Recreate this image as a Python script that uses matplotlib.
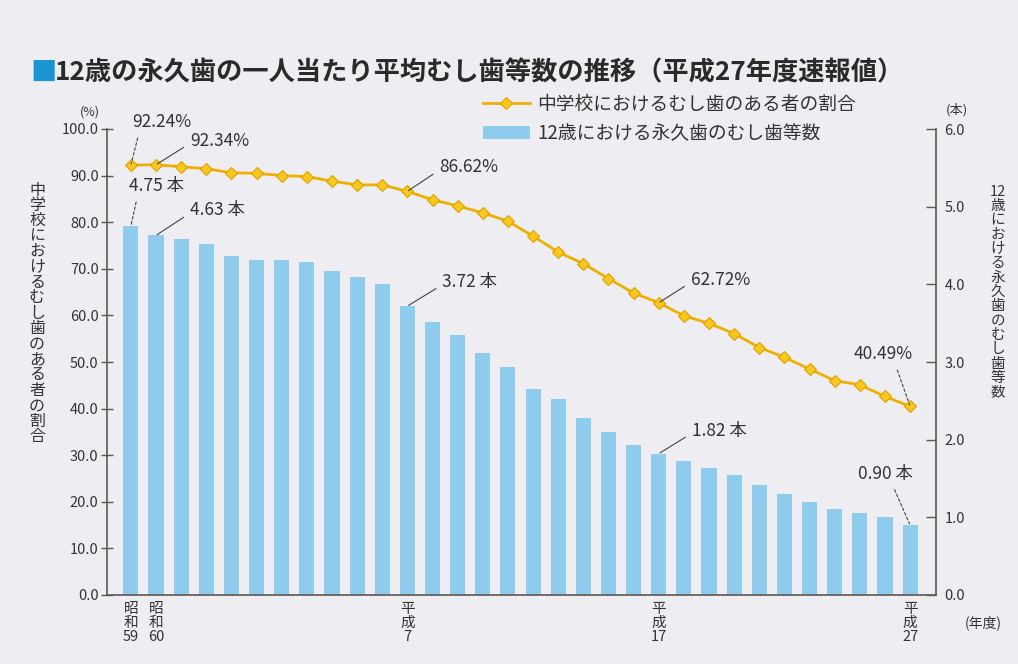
import numpy as np
import matplotlib
matplotlib.use("Agg")
import matplotlib.pyplot as plt
from matplotlib.ticker import FormatStrFormatter

plt.rcParams['font.family'] = ['Noto Sans CJK JP', 'DejaVu Sans']

# data: 昭和59 (1984) .. 平成27 (2015)
years = list(range(1984, 2016))
caries_rate = [92.24, 92.34, 91.9, 91.5, 90.6, 90.5, 90.0, 89.8, 88.8, 88.0, 88.0, 86.62,
               84.8, 83.5, 82.0, 80.2, 77.0, 73.6, 71.1, 67.9, 64.8, 62.72,
               59.9, 58.3, 56.1, 53.1, 51.0, 48.5, 46.0, 45.1, 42.6, 40.49]
dmft = [4.75, 4.63, 4.59, 4.52, 4.36, 4.31, 4.31, 4.29, 4.17, 4.09, 4.01, 3.72,
        3.52, 3.35, 3.11, 2.93, 2.65, 2.52, 2.28, 2.10, 1.93, 1.82,
        1.72, 1.63, 1.55, 1.41, 1.30, 1.20, 1.11, 1.05, 1.00, 0.90]
tick_idx = [0, 1, 11, 21, 31]
tick_labels = ["昭\n和\n59", "昭\n和\n60", "平\n成\n7", "平\n成\n17", "平\n成\n27"]
rate_notes = [0, 1, 11, 21, 31]
dmft_notes = [0, 1, 11, 21, 31]

title = "12歳の永久歯の一人当たり平均むし歯等数の推移（平成27年度速報値）"
line_name = "中学校におけるむし歯のある者の割合"
bar_name = "12歳における永久歯のむし歯等数"

W, H = 1018, 664
BG = "#eeedf2"
TXT = "#333333"
SPINE = "#5f5752"

fig = plt.figure(figsize=(W / 100, H / 100), dpi=100, facecolor=BG)
ax = fig.add_axes([107 / W, 1 - 595 / H, 829 / W, 466 / H])
ax.set_facecolor("none")
x = np.arange(len(years))

bars = ax.bar(x, dmft, width=0.6, color="#8fcbec", zorder=2)
ax.set_ylim(0, 6)
ax.set_xlim(-0.95, 32.03)

ax2 = ax.twinx()
line, = ax2.plot(x, caries_rate, color="#eeb000", lw=2, marker="D", ms=6,
                 mfc="#f8c81e", mec="#e0a000", mew=0.8, zorder=3)
ax2.set_ylim(0, 100)

# bars use the right scale, the line uses the left one
ax.yaxis.tick_right()
ax2.yaxis.tick_left()
ax.set_yticks(np.arange(0, 6.1, 1))
ax2.set_yticks(np.arange(0, 100.1, 10))
ax.yaxis.set_major_formatter(FormatStrFormatter("%.1f"))
ax2.yaxis.set_major_formatter(FormatStrFormatter("%.1f"))
ax.tick_params(axis="y", direction="in", length=7, width=1, color=SPINE,
               labelsize=10.5, labelcolor=TXT, pad=6)
ax2.tick_params(axis="y", direction="inout", length=9, width=1, color=SPINE,
                labelsize=10.5, labelcolor=TXT, pad=1.5)
ax.set_xticks(tick_idx)
ax.set_xticklabels(tick_labels, fontsize=10.5, color=TXT, linespacing=0.98)
ax.tick_params(axis="x", length=0, pad=5)

for s in ["top", "left"]:
    ax.spines[s].set_visible(False)
for s in ["right", "bottom"]:
    ax.spines[s].set_color(SPINE)
    ax.spines[s].set_linewidth(1.2)
for s in ["top", "right", "bottom"]:
    ax2.spines[s].set_visible(False)
ax2.spines["left"].set_color(SPINE)
ax2.spines["left"].set_linewidth(1.2)

# callouts: (dx, dy) in pixels, horizontal align, relpos, dashed
rate_pos = [(31, 43, "center", (0.12, 0), True), (34, 24, "left", (0, 0.35), False),
            (32, 24, "left", (0, 0.35), False), (32, 23, "left", (0, 0.35), False),
            (-27, 52, "center", (0.7, 0), True)]
dmft_pos = [(26, 40, "center", (0.15, 0), True), (34, 25, "left", (0, 0.35), False),
            (35, 24, "left", (0, 0.35), False), (33, 23, "left", (0, 0.35), False),
            (-25, 51, "center", (0.62, 0), True)]


def note(axis, i, val, label, pos):
    dx, dy, ha, rp, dashed = pos
    ls = (0, (2.5, 2)) if dashed else "-"
    axis.annotate(label, xy=(i, val), xytext=(dx, dy), textcoords="offset pixels",
                  ha=ha, va="center", fontsize=12.5, color=TXT, zorder=5,
                  arrowprops=dict(arrowstyle="-", color="#444444", lw=0.8, linestyle=ls,
                                  shrinkA=3, shrinkB=1, relpos=rp))


for i, p in zip(rate_notes, rate_pos):
    note(ax2, i, caries_rate[i], f"{caries_rate[i]:.2f}%", p)
for i, p in zip(dmft_notes, dmft_pos):
    note(ax, i, dmft[i], f"{dmft[i]:.2f} 本", p)

# legend
ax2.legend([line, bars], [line_name, bar_name], loc="upper left",
           bbox_to_anchor=(483 / W, 1 - 94 / H), bbox_transform=fig.transFigure,
           frameon=False, fontsize=13.5, handlelength=2.5, handletextpad=0.4,
           borderpad=0, borderaxespad=0, labelspacing=0.45, numpoints=1,
           labelcolor=TXT)

# title
fig.text(30 / W, 1 - 73 / H, "■", fontsize=19, color="#1b95d2", va="center", ha="left")
fig.text(55 / W, 1 - 73 / H, title, fontsize=18.9, fontweight="bold", color="#2a2a2a",
         va="center", ha="left")

# unit labels
fig.text(90 / W, 1 - 112 / H, "(%)", fontsize=9, color=TXT, ha="center", va="center")
fig.text(957 / W, 1 - 110 / H, "(本)", fontsize=9.5, color=TXT, ha="center", va="center")
fig.text(965 / W, 1 - 623 / H, "(年度)", fontsize=10, color=TXT, ha="left", va="center")


def vertical(xc, y0, step, chars, size):
    for k, c in enumerate(chars):
        fig.text(xc / W, 1 - (y0 + k * step) / H, c, fontsize=size, color=TXT,
                 ha="center", va="center")


vertical(37, 190, 15.4, list(line_name), 11.5)
vertical(998, 192, 14.3, ["12"] + list(bar_name[2:]), 10.5)

fig.savefig("out.png", dpi=100, facecolor=BG)
